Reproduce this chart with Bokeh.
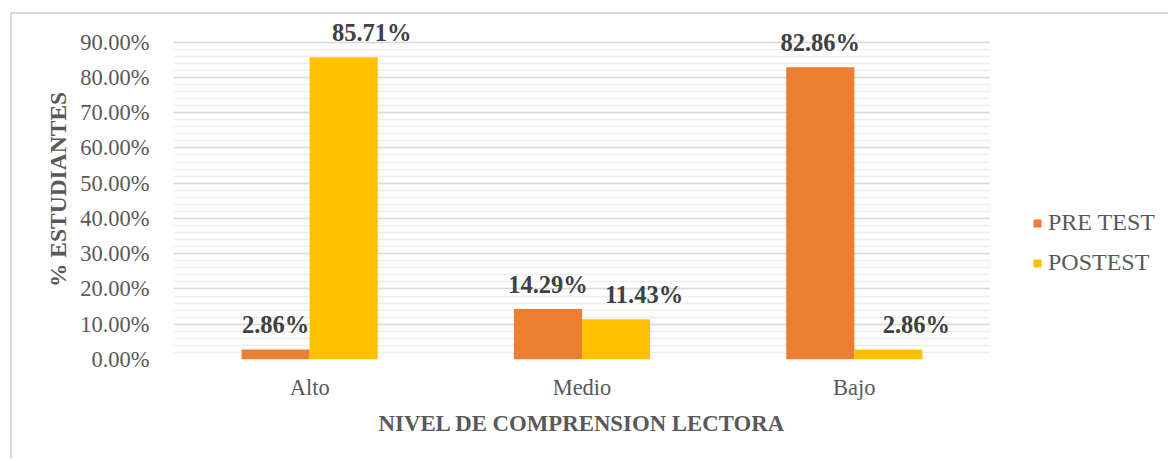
from bokeh.plotting import figure
from bokeh.layouts import row
from bokeh.models import (ColumnDataSource, FactorRange, Range1d, FixedTicker,
                          NumeralTickFormatter, Legend, LegendItem)
from bokeh.transform import dodge
from bokeh.core.properties import value
from bokeh.embed import file_html
from bokeh.resources import INLINE

categories = ["Alto", "Medio", "Bajo"]
pre_test = [2.86, 14.29, 82.86]
post_test = [85.71, 11.43, 2.86]
series_names = ["PRE TEST", "POSTEST"]
y_ticks = [0, 10, 20, 30, 40, 50, 60, 70, 80, 90]

ORANGE = "#ED7D31"
YELLOW = "#FFC000"
FONT = "Liberation Serif"

src = ColumnDataSource(dict(
    cat=categories,
    pre=[v / 100 for v in pre_test],
    post=[v / 100 for v in post_test],
    pre_lbl=[f"{v:.2f}%" for v in pre_test],
    post_lbl=[f"{v:.2f}%" for v in post_test],
))

H = 445
p = figure(x_range=FactorRange(*categories), y_range=Range1d(0, 0.9643),
           width=978, height=H, output_backend="svg", toolbar_location=None,
           min_border_left=161, min_border_right=0, min_border_top=5,
           min_border_bottom=100)
p.outline_line_color = None
p.background_fill_color = "white"
p.border_fill_color = "white"

r_pre = p.vbar(x=dodge("cat", -0.125, range=p.x_range), top="pre", width=0.25,
               source=src, fill_color=ORANGE, line_color=None)
r_post = p.vbar(x=dodge("cat", 0.125, range=p.x_range), top="post", width=0.25,
                source=src, fill_color=YELLOW, line_color=None)

lbl_kw = dict(text_font=value(FONT), text_font_style="bold", text_font_size="24.5px",
              text_color="#404040", text_align="center", text_baseline="alphabetic",
              y_offset=-25, source=src)
p.text(x=dodge("cat", -0.125, range=p.x_range), y="pre", text="pre_lbl", **lbl_kw)
p.text(x=dodge("cat", 0.125, range=p.x_range), y="post", text="post_lbl",
       x_offset=28, **lbl_kw)

# grid
major = [t / 100 for t in y_ticks]
minor = [round(i * 0.02, 4) for i in range(0, 46)]
p.yaxis.ticker = FixedTicker(ticks=major, minor_ticks=minor)
p.ygrid.grid_line_color = "#d9d9d9"
p.ygrid.grid_line_width = 1.6
p.ygrid.minor_grid_line_color = "#eeeeee"
p.ygrid.minor_grid_line_width = 1.6
p.xgrid.grid_line_color = None

p.yaxis.formatter = NumeralTickFormatter(format="0.00%")
for ax in (p.xaxis, p.yaxis):
    ax.axis_line_color = None
    ax.major_tick_line_color = None
    ax.minor_tick_line_color = None
    ax.major_label_text_font = FONT
    ax.major_label_text_font_size = "22.5px"
    ax.major_label_text_color = "#595959"
    ax.axis_label_text_font = FONT
    ax.axis_label_text_font_style = "bold"
    ax.axis_label_text_color = "#595959"

p.yaxis.axis_label = "% ESTUDIANTES"
p.yaxis.axis_label_text_font_size = "23.5px"
p.yaxis.major_label_standoff = 18
p.yaxis.axis_label_standoff = 6
p.xaxis.axis_label = "NIVEL DE COMPRENSION LECTORA"
p.xaxis.axis_label_text_font_size = "22.8px"
p.xaxis.major_label_standoff = 9
p.xaxis.axis_label_standoff = 8

# legend panel (zero-width proxy bars outside its range; only the legend shows)
pl = figure(width=178, height=H, output_backend="svg", toolbar_location=None,
            x_range=FactorRange(*categories), y_range=Range1d(10, 11),
            x_axis_location=None, y_axis_location=None,
            min_border_left=0, min_border_right=0, min_border_top=0,
            min_border_bottom=0)
pl.outline_line_color = None
pl.xgrid.grid_line_color = None
pl.ygrid.grid_line_color = None
lr_pre = pl.vbar(x="cat", top="pre", width=0, source=src,
                 fill_color=ORANGE, line_color=None)
lr_post = pl.vbar(x="cat", top="post", width=0, source=src,
                  fill_color=YELLOW, line_color=None)
legend = Legend(items=[LegendItem(label=series_names[0], renderers=[lr_pre]),
                       LegendItem(label=series_names[1], renderers=[lr_post])],
                location=(42, 83), padding=0, margin=0, spacing=13,
                glyph_width=10, glyph_height=10, label_height=20, label_standoff=6,
                border_line_color=None, background_fill_alpha=0,
                label_text_font=FONT, label_text_font_size="24px",
                label_text_color="#595959", label_text_baseline="middle")
pl.add_layout(legend, "center")

layout = row(p, pl, spacing=0)
layout.styles = {"border-top": "2px solid #d9d9d9", "border-left": "2px solid #d9d9d9",
                 "margin-left": "10px", "margin-top": "12px"}

open("out.html", "w").write(file_html(layout, INLINE))
